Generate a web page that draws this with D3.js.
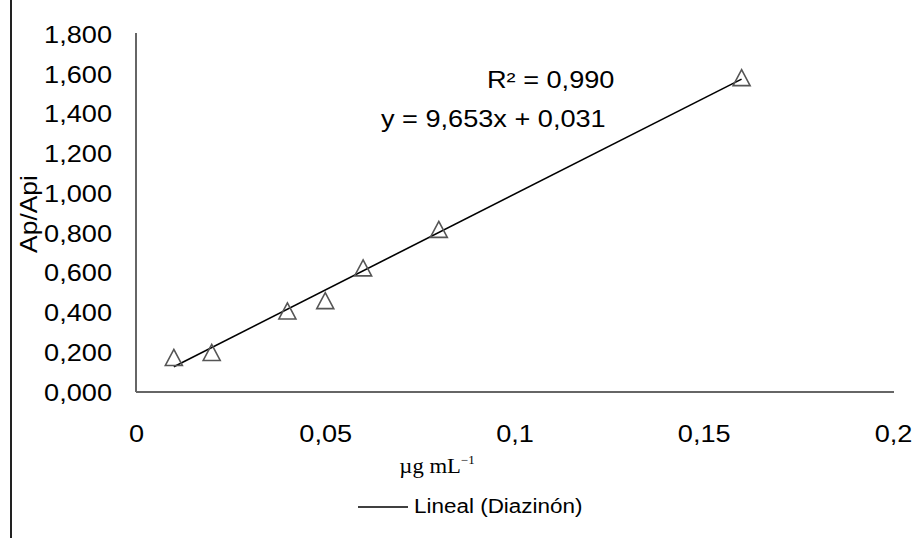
<!DOCTYPE html>
<html>
<head>
<meta charset="utf-8">
<script src="https://cdn.jsdelivr.net/npm/d3@7"></script>
<style>
  body { margin: 0; background: #fff; }
  svg { display: block; }
  .tick-label { font-family: "Liberation Sans", Arial, sans-serif; font-size: 23px; fill: #000; }
</style>
</head>
<body>
<script>
// Data
const concentration = [0.01, 0.02, 0.04, 0.05, 0.06, 0.08, 0.16];
const ratio = [0.174, 0.199, 0.408, 0.46, 0.625, 0.819, 1.583];
const xTicks = [0, 0.05, 0.1, 0.15, 0.2];
const yTicks = [0, 0.2, 0.4, 0.6, 0.8, 1.0, 1.2, 1.4, 1.6, 1.8];
// trendline from the shown equation
const slope = 9.653;
const intercept = 0.031;
const eqText = "y = 9,653x + 0,031";
const r2Text = "R² = 0,990";
const legendText = "Lineal (Diazinón)";

const width = 924;
const height = 538;
const stretch = 1.18;

const locale = d3.formatLocale({ decimal: ",", thousands: ".", grouping: [3], currency: ["", ""] });
const fmtX = locale.format("~g");
const fmtY = locale.format(".3f");

let svg = d3.select("body").append("svg")
    .attr("width", width)
    .attr("height", height);

// left border line
svg.append("line")
    .attr("x1", 11).attr("x2", 11)
    .attr("y1", 0).attr("y2", height)
    .attr("stroke", "#222")
    .attr("stroke-width", 2);

const x = d3.scaleLinear().domain([0, 0.2]).range([136, 893]);
const y = d3.scaleLinear().domain([0, 1.8]).range([392, 34.5]);

// Axes
let gx = svg.append("g")
    .attr("transform", `translate(0, ${y(0)})`)
    .call(d3.axisBottom(x).tickValues(xTicks).tickFormat(fmtX).tickSize(0).tickSizeOuter(0));
gx.select(".domain").attr("stroke", "#666").attr("stroke-width", 2).attr("d", `M${x(0)},0H${x(0.2) + 1}`);
gx.selectAll(".tick text")
    .attr("class", "tick-label")
    .attr("y", null).attr("dy", null)
    .attr("transform", `translate(0, 50) scale(${stretch}, 1)`);

let gy = svg.append("g")
    .attr("transform", `translate(${x(0)}, 0)`)
    .call(d3.axisLeft(y).tickValues(yTicks).tickFormat(fmtY).tickSize(0).tickSizeOuter(0));
gy.select(".domain").attr("stroke", "#666").attr("stroke-width", 2).attr("d", `M0,${y(0)}V${y(1.8) - 1.5}`);
gy.selectAll(".tick text")
    .attr("class", "tick-label")
    .attr("x", null).attr("dy", null)
    .attr("transform", `translate(-24, 8) scale(${stretch}, 1)`);

// Trendline
const xr = d3.extent(concentration);
svg.append("line")
    .attr("x1", x(xr[0])).attr("y1", y(slope * xr[0] + intercept))
    .attr("x2", x(xr[1])).attr("y2", y(slope * xr[1] + intercept))
    .attr("stroke", "#000")
    .attr("stroke-width", 1.6);

// Markers
const tri = "M0,-8L8.5,8L-8.5,8Z";
svg.append("g").selectAll("path")
    .data(concentration)
    .join("path")
    .attr("d", tri)
    .attr("transform", (d, i) => `translate(${x(d)}, ${y(ratio[i])})`)
    .attr("fill", "none")
    .attr("stroke", "#555")
    .attr("stroke-width", 1.6);

// Equation labels
svg.append("text")
    .attr("class", "tick-label")
    .attr("transform", `translate(487, 88) scale(${stretch}, 1)`)
    .text(r2Text);
svg.append("text")
    .attr("class", "tick-label")
    .attr("transform", `translate(381, 127) scale(${stretch}, 1)`)
    .text(eqText);

// Axis titles
svg.append("text")
    .attr("class", "tick-label")
    .attr("text-anchor", "middle")
    .attr("transform", `translate(37, 214) rotate(-90) scale(1.15, 1)`)
    .text("Ap/Api");

let xt = svg.append("text")
    .attr("text-anchor", "middle")
    .attr("font-family", "'Liberation Serif', 'Times New Roman', serif")
    .attr("font-size", 21)
    .attr("transform", `translate(437, 473) scale(1.08, 1)`);
xt.append("tspan").text("µg mL");
xt.append("tspan").attr("font-size", 12).attr("dy", -9).text("−1");

// Legend
svg.append("line")
    .attr("x1", 358).attr("x2", 408)
    .attr("y1", 507).attr("y2", 507)
    .attr("stroke", "#000")
    .attr("stroke-width", 1.6);
svg.append("text")
    .attr("font-family", "'Liberation Sans', Arial, sans-serif")
    .attr("font-size", 21)
    .attr("transform", `translate(414, 513) scale(1.07, 1)`)
    .text(legendText);
</script>
</body>
</html>
